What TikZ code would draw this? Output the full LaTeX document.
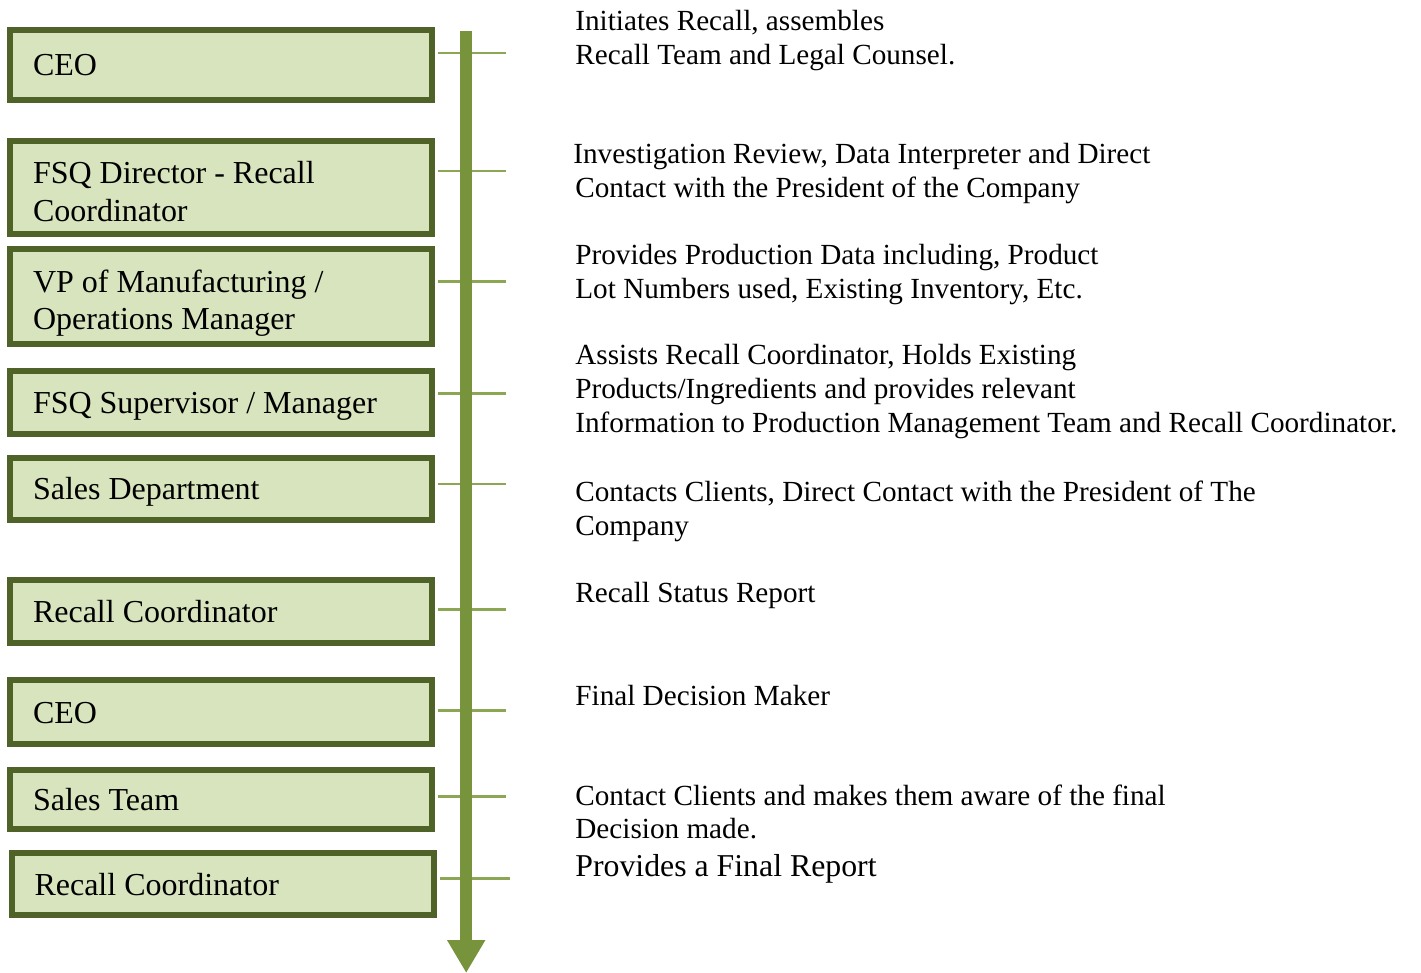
\documentclass[tikz,border=0pt]{standalone}
\usepackage{fontspec}
\setmainfont{Liberation Serif}
\usepackage{xcolor}
\usetikzlibrary{arrows.meta}
\definecolor{boxfill}{HTML}{D8E4BD}
\definecolor{boxline}{HTML}{4F6228}
\definecolor{flowgreen}{HTML}{77933C}
\definecolor{tickgreen}{HTML}{8BA753}

\begin{document}
\begin{tikzpicture}[x=0.5pt, y=-0.5pt,
        every node/.style={execute at begin node={\spaceskip=0pt\xspaceskip=0pt}},
        role/.style={draw=boxline, fill=boxfill, line width=3pt, minimum width=211pt, text width=188pt,
            inner xsep=11.5pt, inner ysep=0pt, align=left, text height=13pt, text depth=2pt,
            font=\fontsize{16}{18.85}\selectfont},
        tworole/.style={role, text depth=17.4pt},
        duty/.style={anchor=base west, inner sep=0pt, text width=440pt, align=left,
            font=\fontsize{14.6}{17}\selectfont},
        tick/.style={draw=tickgreen, line width=1.25pt, shorten <=1.5pt},
        flow/.style={draw=flowgreen, line width=6.25pt, -{Triangle[width=18pt,length=16.5pt]}}]
            \useasboundingbox (0,0) rectangle (1421,973);
            \node[role, minimum height=34.7pt] (ceoA) at (221,65) {CEO};
            \node[tworole, minimum height=46.5pt] (fsqDirector) at (221,187.8) {FSQ Director - Recall\\Coordinator};
            \node[tworole, minimum height=47.6pt] (vpManufacturing) at (221,296.7) {VP of Manufacturing /\\Operations Manager};
            \node[role, minimum height=31.5pt] (fsqSupervisor) at (221,402.8) {FSQ Supervisor / Manager};
            \node[role, minimum height=30.8pt] (salesDept) at (221,488.9) {Sales Department};
            \node[role, minimum height=31.3pt] (recallA) at (221,611.7) {Recall Coordinator};
            \node[role, minimum height=31.7pt] (ceoB) at (221,712) {CEO};
            \node[role, minimum height=29.2pt] (salesTeam) at (221,799.5) {Sales Team};
            \node[role, minimum height=31.1pt] (recallB) at (222.5,884.2) {Recall Coordinator};
            \coordinate (tA) at (506,53);
            \coordinate (tB) at (506,171);
            \coordinate (tC) at (506,281.7);
            \coordinate (tD) at (506,393.7);
            \coordinate (tE) at (506,484);
            \coordinate (tF) at (506,609.3);
            \coordinate (tG) at (506,710.7);
            \coordinate (tH) at (506,796.3);
            \coordinate (tI) at (510,878.3);
            \draw[tick] (tA -| ceoA.east) -- (tA);
            \draw[tick] (tB -| fsqDirector.east) -- (tB);
            \draw[tick] (tC -| vpManufacturing.east) -- (tC);
            \draw[tick] (tD -| fsqSupervisor.east) -- (tD);
            \draw[tick] (tE -| salesDept.east) -- (tE);
            \draw[tick] (tF -| recallA.east) -- (tF);
            \draw[tick] (tG -| ceoB.east) -- (tG);
            \draw[tick] (tH -| salesTeam.east) -- (tH);
            \draw[tick] (tI -| recallB.east) -- (tI);
            \coordinate (flowTop) at (466.2,30.7);
            \coordinate (flowEnd) at (466.2,973);
            \draw[flow] (flowTop) -- (flowEnd);
            \node[duty] (dutyA) at (575,30.7) {Initiates Recall, assembles\\Recall Team and Legal Counsel.};
            \node[duty] (dutyB) at (573,164) {Investigation Review, Data Interpreter and Direct\\\hspace*{1pt}Contact with the President of the Company};
            \node[duty] (dutyC) at (575,265) {Provides Production Data including, Product\\Lot Numbers used, Existing Inventory, Etc.};
            \node[duty] (dutyD) at (575,365) {Assists Recall Coordinator, Holds Existing\\Products/Ingredients and provides relevant\\Information to Production Management Team and Recall Coordinator.};
            \node[duty] (dutyE) at (575,502) {Contacts Clients, Direct Contact with the President of The\\Company};
            \node[duty] (dutyF) at (575,603) {Recall Status Report};
            \node[duty] (dutyG) at (575,705) {Final Decision Maker};
            \node[duty] (dutyH) at (575,805) {Contact Clients and makes them aware of the final\\Decision made.};
            \node[duty, font=\fontsize{15.9}{18}\selectfont] (dutyI) at (575,876) {Provides a Final Report};
        \end{tikzpicture}
\end{document}
